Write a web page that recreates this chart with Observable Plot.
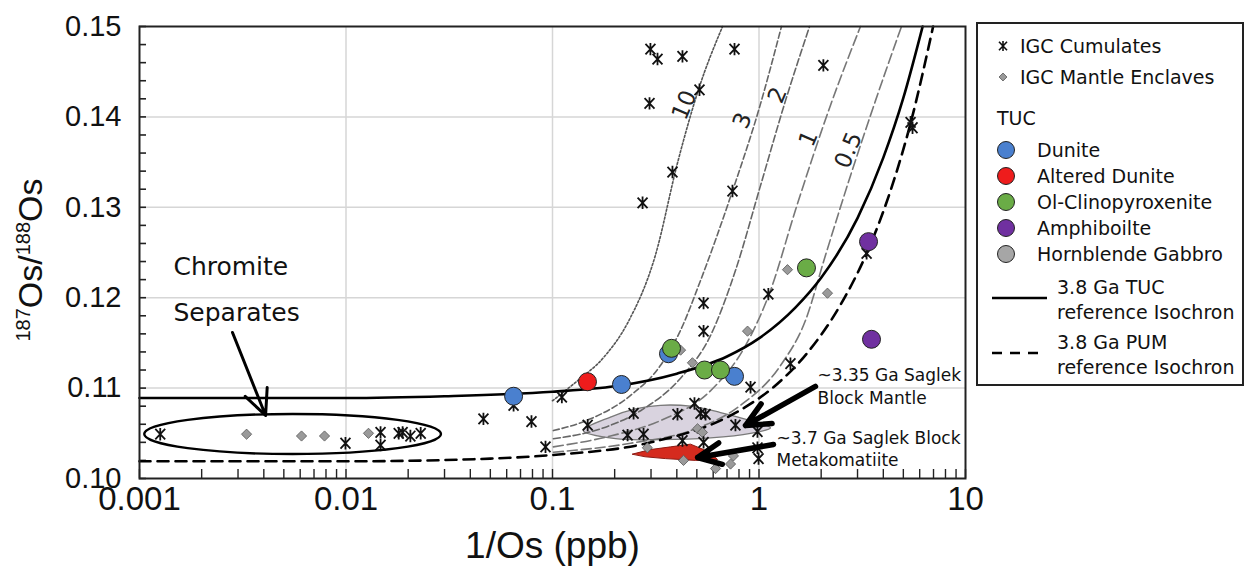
<!DOCTYPE html>
<html><head><meta charset="utf-8">
<script src="https://cdn.jsdelivr.net/npm/d3@7"></script>
<script src="https://cdn.jsdelivr.net/npm/@observablehq/plot@0.6"></script>
<style>
body{margin:0;background:#fff;}
#wrap{position:relative;width:1248px;height:567px;overflow:hidden;}
#chart{position:absolute;left:0;top:0;}
#legend{position:absolute;left:0;top:0;}
</style></head>
<body><div id="wrap"><div id="chart"></div><svg id="legend" width="1248" height="567"></svg></div>
<script>
// ---------- axes ----------
const xTicks = [0.001, 0.01, 0.1, 1, 10];
const xTickLabels = ["0.001", "0.01", "0.1", "1", "10"];
const yTicks = [0.10, 0.11, 0.12, 0.13, 0.14, 0.15];
const yTickLabels = ["0.10", "0.11", "0.12", "0.13", "0.14", "0.15"];

// ---------- IGC cumulates (asterisks) ----------
const cumX = [0.298,0.3225,0.426,0.761,0.515,0.295,0.381,0.273,0.744,2.05,5.42,5.54,3.32,
  0.539,0.539,1.11,1.42,0.910,0.111,0.487,0.247,0.403,0.521,0.551,0.769,0.148,0.983,0.231,0.276,
  0.426,0.539,0.983,0.995,0.0925,0.00126,0.00994,0.0147,0.0147,0.0180,0.0188,0.0205,0.0230,0.0463,0.0648,0.0791];
const cumY = [0.1475,0.1464,0.1467,0.1475,0.1430,0.1415,0.1339,0.1305,0.1318,0.1457,0.1394,0.1388,0.1249,
  0.1194,0.1163,0.1204,0.1127,0.1101,0.1090,0.1083,0.1072,0.1071,0.1072,0.1071,0.1059,0.1059,0.1052,0.1048,0.1049,
  0.1042,0.1040,0.1034,0.1022,0.1035,0.1049,0.1039,0.1051,0.1037,0.1050,0.1051,0.1047,0.1050,0.1066,0.1081,0.1063];

// ---------- IGC mantle enclaves (diamonds) ----------
const encX = [0.0033,0.00609,0.00787,0.01285,1.374,2.146,0.880,0.476,0.417,0.504,0.532,0.288,0.431,0.616,0.728,0.752];
const encY = [0.1049,0.1047,0.1047,0.1050,0.1231,0.1205,0.1163,0.1128,0.1142,0.1055,0.1051,0.1034,0.1020,0.1011,0.1016,0.1025];

// ---------- TUC samples ----------
const tucTypes = ["Dunite", "Altered Dunite", "Ol-Clinopyroxenite", "Amphiboilte", "Hornblende Gabbro"];
const tucColors = ["#4a80cf", "#ee1c1c", "#6aac46", "#7030a0", "#a6a6a6"];
const tucType = ["Dunite","Dunite","Dunite","Dunite","Altered Dunite",
  "Ol-Clinopyroxenite","Ol-Clinopyroxenite","Ol-Clinopyroxenite","Ol-Clinopyroxenite","Amphiboilte","Amphiboilte"];
const tucX = [0.0648,0.2158,0.3645,0.761,0.1477,0.377,0.5447,0.651,1.698,3.392,3.506];
const tucY = [0.1091,0.1104,0.1138,0.1113,0.1107,0.1144,0.1120,0.1120,0.1233,0.1262,0.1154];

// ---------- reference isochrons ----------
const tucIsoX = [0.001,0.01,0.03,0.1,0.2,0.4,0.7,1,1.5,2,3,4,5,6.2];
const tucIsoY = [0.1089,0.1089,0.1091,0.1096,0.1102,0.1116,0.1135,0.1155,0.1189,0.1222,0.1288,0.1355,0.1421,0.1500];
const pumIsoX = [0.001,0.01,0.05,0.1,0.3,0.76,1.175,1.7,2.48,3.32,4.3,5.42,6.97];
const pumIsoY = [0.1019,0.1019,0.1022,0.1026,0.1040,0.1072,0.1101,0.1138,0.1192,0.1249,0.1316,0.1393,0.1500];

// ---------- labelled grey curves ----------
const curveNames = ["10", "3", "2", "1", "0.5"];
const curveX = [
  [0.1,0.132,0.177,0.231,0.315,0.403,0.509,0.666],
  [0.101,0.153,0.239,0.333,0.417,0.521,0.744,0.995,1.285],
  [0.101,0.171,0.267,0.417,0.582,0.769,1.017,1.344,1.757],
  [0.101,0.191,0.333,0.582,0.860,1.137,1.502,2.220,3.10],
  [0.101,0.239,0.466,0.814,1.271,1.680,2.099,2.774,3.666,4.898]
];
const curveY = [
  [0.1086,0.1108,0.1134,0.1172,0.1247,0.1349,0.1430,0.1500],
  [0.1053,0.1066,0.1092,0.1125,0.1164,0.1219,0.1318,0.1407,0.1500],
  [0.1044,0.1055,0.1075,0.1111,0.1158,0.1230,0.1324,0.1418,0.1500],
  [0.1035,0.1047,0.1064,0.1097,0.1147,0.1208,0.1297,0.1413,0.1500],
  [0.1029,0.1039,0.1053,0.1081,0.1125,0.1175,0.1247,0.1335,0.1418,0.1500]
];
const curveLabelX = [0.436, 0.832, 1.229, 1.737, 2.713];
const curveLabelY = [0.1413, 0.1396, 0.1424, 0.1376, 0.1363];

// ---------- fields ----------
const lensX = [0.141,0.191,0.252,0.333,0.466,0.651,0.910,1.137,0.910,0.582,0.333,0.202];
const lensY = [0.1053,0.1068,0.1077,0.1081,0.1080,0.1073,0.1064,0.1056,0.1050,0.1045,0.1043,0.1044];
const komX = [0.244,0.298,0.373,0.466,0.539,0.602,0.630,0.493,0.353,0.282];
const komY = [0.1027,0.1032,0.1035,0.1038,0.1032,0.1025,0.1021,0.1020,0.1022,0.1024];

// ---------- annotations ----------
const chromiteEllipseX = [0.00106, 0.0290];
const chromiteEllipseY = [0.10265, 0.10708];
const noteText = ["Chromite\nSeparates", "~3.35 Ga Saglek\nBlock Mantle", "~3.7 Ga Saglek Block\nMetakomatiite"];
const noteX = [0.00146, 1.92, 1.215];
const noteY = [0.1216, 0.1103, 0.1034];
const arrowX1 = [0.00282, 1.877, 1.175];
const arrowY1 = [0.11615, 0.11018, 0.10376];
const arrowX2 = [0.00408, 0.860, 0.504];
const arrowY2 = [0.10697, 0.10586, 0.10232];

// ---------- build tables ----------
const cum = cumX.map((x, i) => ({x, y: cumY[i]}));
const enc = encX.map((x, i) => ({x, y: encY[i]}));
const tuc = tucX.map((x, i) => ({x, y: tucY[i], type: tucType[i]}));
const tucIso = tucIsoX.map((x, i) => ({x, y: tucIsoY[i]}));
const pumIso = pumIsoX.map((x, i) => ({x, y: pumIsoY[i]}));
const lens = lensX.map((x, i) => ({x, y: lensY[i]}));
const kom = komX.map((x, i) => ({x, y: komY[i]}));
const curves = curveNames.map((n, k) => curveX[k].map((x, i) => ({x, y: curveY[k][i], name: n})));
const notes = noteText.map((t, i) => ({t, x: noteX[i], y: noteY[i]}));
const arrows = arrowX1.map((x1, i) => ({x1, y1: arrowY1[i], x2: arrowX2[i], y2: arrowY2[i]}));
const curveLabels = curveNames.map((n, i) => ({n, x: curveLabelX[i], y: curveLabelY[i]}));

const xMinor = [];
for (const d of [0.001, 0.01, 0.1, 1]) for (let k = 1; k <= 9; k++) xMinor.push(d * k);
xMinor.push(10);
const yMinor = d3.range(0, 26).map(i => 0.10 + i * 0.002);

const asterisk = {
  draw(ctx, size) {
    const r = Math.sqrt(size / Math.PI);
    ctx.moveTo(0, -r); ctx.lineTo(0, r);
    ctx.moveTo(-0.8 * r, -0.85 * r); ctx.lineTo(0.8 * r, 0.85 * r);
    ctx.moveTo(-0.8 * r, 0.85 * r); ctx.lineTo(0.8 * r, -0.85 * r);
  }
};

const curveStyles = [
  {stroke: "#555", strokeDasharray: "2,2", strokeWidth: 1.6},
  {stroke: "#666", strokeDasharray: "6,3", strokeWidth: 1.6},
  {stroke: "#666", strokeDasharray: "7,3", strokeWidth: 1.6},
  {stroke: "#777", strokeDasharray: "10,4", strokeWidth: 1.6},
  {stroke: "#777", strokeDasharray: "10,4", strokeWidth: 1.6}
];

const plot = Plot.plot({
  width: 1248, height: 567,
  marginLeft: 139, marginRight: 283, marginTop: 26, marginBottom: 89,
  x: {type: "log", domain: [0.001, 10]},
  y: {domain: [0.10, 0.15]},
  color: {domain: tucTypes, range: tucColors},
  style: {fontFamily: "Liberation Sans", background: "#fff", color: "#111"},
  marks: [
    Plot.gridX(xTicks.slice(1, -1), {stroke: "#d6d6d6", strokeOpacity: 1, strokeWidth: 1.5}),
    Plot.gridY(yTicks.slice(1, -1), {stroke: "#d6d6d6", strokeOpacity: 1, strokeWidth: 1.5}),
    Plot.tickX(xMinor, {x: d => d, insetTop: 443, stroke: "#222", strokeWidth: 1.4}),
    Plot.tickY(yMinor, {y: d => d, insetRight: 819, stroke: "#222", strokeWidth: 1.6}),
    Plot.line(lens, {x: "x", y: "y", curve: "catmull-rom-closed", fill: "#d9d3df", stroke: "#7a7a7a", strokeWidth: 1.3}),
    Plot.line(kom, {x: "x", y: "y", curve: "linear-closed", fill: "#d52b1e", stroke: "#8e1a12", strokeWidth: 1}),
    ...curves.map((c, k) => Plot.line(c, {x: "x", y: "y", curve: "monotone-x", ...curveStyles[k]})),
    Plot.line(pumIso, {x: "x", y: "y", curve: "monotone-x", stroke: "#000", strokeWidth: 2.6, strokeDasharray: "11,7"}),
    Plot.line(tucIso, {x: "x", y: "y", curve: "monotone-x", stroke: "#000", strokeWidth: 2.6}),
    Plot.dot(enc, {x: "x", y: "y", symbol: "diamond2", r: 4.6, fill: "#9a9a9a", stroke: "#555", strokeWidth: 0.8}),
    Plot.dot(cum, {x: "x", y: "y", symbol: asterisk, r: 6.2, fill: "none", stroke: "#111", strokeWidth: 1.8}),
    Plot.dot(tuc, {x: "x", y: "y", r: 9, fill: "type", stroke: "#222", strokeWidth: 1}),
    Plot.arrow([arrows[0]], {x1: "x1", y1: "y1", x2: "x2", y2: "y2", stroke: "#000", strokeWidth: 3, headLength: 14, headAngle: 50}),
    Plot.arrow(arrows.slice(1), {x1: "x1", y1: "y1", x2: "x2", y2: "y2", stroke: "#000", strokeWidth: 5.5, headLength: 16, headAngle: 50}),
    Plot.text([notes[0]], {x: "x", y: "y", text: "t", textAnchor: "start", lineAnchor: "middle", fontSize: 25, lineHeight: 1.85, fontFamily: "DejaVu Sans", fill: "#111"}),
    Plot.text(notes.slice(1), {x: "x", y: "y", text: "t", textAnchor: "start", lineAnchor: "middle", fontSize: 17, lineHeight: 1.32, fontFamily: "DejaVu Sans", fill: "#111"}),
    Plot.text(curveLabels, {x: "x", y: "y", text: "n", rotate: -67, fontSize: 23, fontFamily: "DejaVu Sans", fill: "#222"}),
    Plot.axisX(xTicks, {tickSize: 0, tickPadding: 8, fontSize: 33, label: null, tickFormat: d => xTickLabels[xTicks.indexOf(d)]}),
    Plot.axisY(yTicks, {tickSize: 0, tickPadding: 18, fontSize: 29, label: null, tickFormat: d => yTickLabels[yTicks.findIndex(t => Math.abs(t - d) < 1e-9)]}),
    Plot.text(["1/Os (ppb)"], {frameAnchor: "bottom", dy: 68, text: d => d, fontSize: 37, lineAnchor: "middle"}),
    Plot.frame({stroke: "#222", strokeWidth: 2})
  ]
});
document.getElementById("chart").appendChild(plot);

// chromite ellipse & y-axis title (positioned through the plot's scales)
const sx = plot.scale("x"), sy = plot.scale("y");
const svg = d3.select(plot);
const ex1 = sx.apply(chromiteEllipseX[0]), ex2 = sx.apply(chromiteEllipseX[1]);
const ey1 = sy.apply(chromiteEllipseY[0]), ey2 = sy.apply(chromiteEllipseY[1]);
svg.append("ellipse").attr("cx", (ex1 + ex2) / 2).attr("cy", (ey1 + ey2) / 2)
  .attr("rx", Math.abs(ex2 - ex1) / 2).attr("ry", Math.abs(ey2 - ey1) / 2)
  .attr("fill", "none").attr("stroke", "#000").attr("stroke-width", 2.4);
const yl = svg.append("text").attr("transform", "translate(42,260) rotate(-90)")
  .attr("text-anchor", "middle").attr("font-family", "Liberation Sans").attr("font-size", 34).attr("fill", "#111");
yl.append("tspan").attr("font-size", 20).attr("dy", -12).text("187");
yl.append("tspan").attr("dy", 12).text("Os/");
yl.append("tspan").attr("font-size", 20).attr("dy", -12).text("188");
yl.append("tspan").attr("dy", 12).text("Os");

// ---------- legend ----------
const legendRows = ["IGC Cumulates", "IGC Mantle Enclaves"];
const legendLineLabels = [["3.8 Ga TUC", "reference Isochron"], ["3.8 Ga PUM", "reference Isochron"]];
const lg = d3.select("#legend").append("g").attr("font-family", "DejaVu Sans").attr("font-size", 19).attr("fill", "#111");
lg.append("rect").attr("x", 977).attr("y", 23).attr("width", 266).attr("height", 362).attr("fill", "#fff").attr("stroke", "#222").attr("stroke-width", 2);
const astPath = d3.path(); asterisk.draw(astPath, 5 * 5 * Math.PI);
lg.append("path").attr("d", astPath.toString()).attr("transform", "translate(1003,46)").attr("stroke", "#111").attr("stroke-width", 1.6).attr("fill", "none");
lg.append("text").attr("x", 1020).attr("y", 46).attr("dy", "0.35em").text(legendRows[0]);
lg.append("path").attr("d", d3.symbol(d3.symbolDiamond2, 40)()).attr("transform", "translate(1003,77)").attr("fill", "#9a9a9a").attr("stroke", "#555").attr("stroke-width", 0.8);
lg.append("text").attr("x", 1020).attr("y", 77).attr("dy", "0.35em").text(legendRows[1]);
lg.append("text").attr("x", 997).attr("y", 118).attr("dy", "0.35em").text("TUC");
tucTypes.forEach((t, i) => {
  const yy = 150 + i * 26;
  lg.append("circle").attr("cx", 1006).attr("cy", yy).attr("r", 8.5).attr("fill", tucColors[i]).attr("stroke", "#222").attr("stroke-width", 1);
  lg.append("text").attr("x", 1037).attr("y", yy).attr("dy", "0.35em").text(t);
});
lg.append("line").attr("x1", 992).attr("x2", 1047).attr("y1", 298).attr("y2", 298).attr("stroke", "#000").attr("stroke-width", 2.6);
lg.append("line").attr("x1", 992).attr("x2", 1042).attr("y1", 353).attr("y2", 353).attr("stroke", "#000").attr("stroke-width", 2.6).attr("stroke-dasharray", "10,8");
legendLineLabels.forEach((pair, i) => {
  const base = i === 0 ? 287 : 342;
  pair.forEach((s, j) => lg.append("text").attr("x", 1057).attr("y", base + j * 25).attr("dy", "0.35em").text(s));
});
</script>
</body></html>
